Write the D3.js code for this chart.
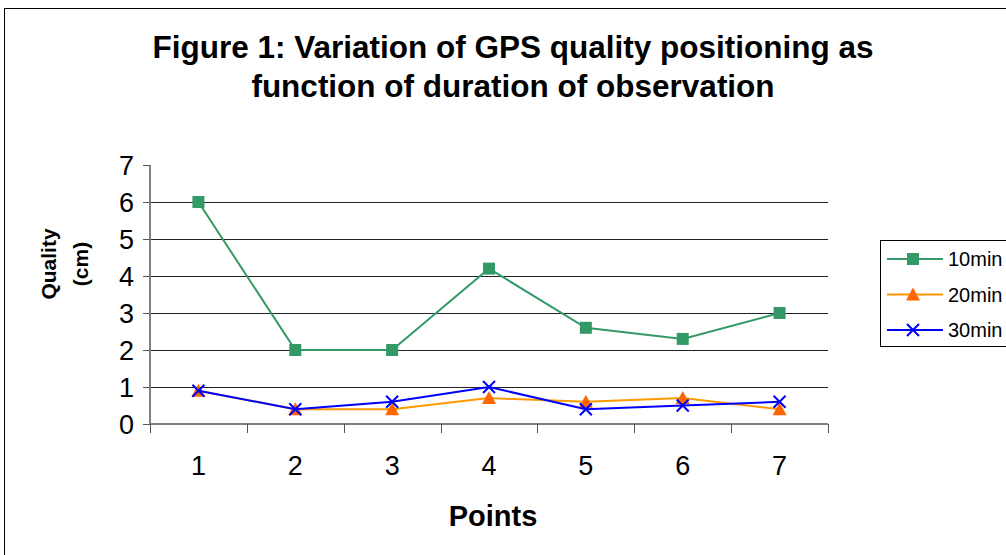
<!DOCTYPE html>
<html>
<head>
<meta charset="utf-8">
<script src="https://cdnjs.cloudflare.com/ajax/libs/d3/7.8.5/d3.min.js"></script>
<style>
body { margin: 0; background: #fff; }
svg { display: block; font-family: "Liberation Sans", Arial, sans-serif; }
</style>
</head>
<body>
<script>
// chart data
var points = ["1", "2", "3", "4", "5", "6", "7"];
var min10 = [6, 2, 2, 4.2, 2.6, 2.3, 3.0];
var min20 = [0.9, 0.4, 0.4, 0.7, 0.6, 0.7, 0.4];
var min30 = [0.9, 0.4, 0.6, 1.0, 0.4, 0.5, 0.6];
var seriesNames = ["10min", "20min", "30min"];
var yTicks = [0, 1, 2, 3, 4, 5, 6, 7];

var svgW = 1006, svgH = 555;
var plot = {left: 150, right: 828, top: 165, bottom: 424};

var svg = d3.select("body").append("svg")
    .attr("width", svgW)
    .attr("height", svgH);

// outer chart frame
svg.append("rect")
    .attr("x", 4.5).attr("y", 8.5)
    .attr("width", 1100).attr("height", 600)
    .attr("fill", "#fff")
    .attr("stroke", "#000")
    .attr("stroke-width", 1);

// title
var title = svg.append("text")
    .attr("text-anchor", "middle")
    .attr("font-weight", "bold")
    .attr("font-size", 31.5);
title.append("tspan").attr("x", 513).attr("y", 58)
    .text("Figure 1: Variation of GPS quality positioning as");
title.append("tspan").attr("x", 513).attr("y", 97)
    .text("function of duration of observation");

var xScale = d3.scaleBand()
    .domain(points)
    .range([plot.left, plot.right]);

var yScale = d3.scaleLinear()
    .domain([0, 7])
    .range([plot.bottom, plot.top]);

// gridlines
svg.append("g")
    .selectAll("line")
    .data(yTicks.filter(function(d) { return d > 0 && d < 7; }))
    .enter().append("line")
    .attr("x1", plot.left).attr("x2", plot.right)
    .attr("y1", function(d) { return Math.round(yScale(d)) + 0.5; })
    .attr("y2", function(d) { return Math.round(yScale(d)) + 0.5; })
    .attr("stroke", "#222")
    .attr("stroke-width", 1);

// y axis
var yAxis = d3.axisLeft(yScale)
    .tickValues(yTicks)
    .tickSize(7)
    .tickPadding(9)
    .tickFormat(d3.format("d"));

var gy = svg.append("g")
    .attr("transform", "translate(" + plot.left + ",0)")
    .call(yAxis);
gy.select(".domain").attr("stroke", "#808080").attr("stroke-width", 2)
    .attr("d", "M0," + plot.top + "V" + plot.bottom);
gy.selectAll(".tick line").attr("stroke", "#555");
gy.selectAll(".tick text")
    .attr("font-size", 27)
    .attr("font-family", "Liberation Sans, Arial, sans-serif")
    .attr("fill", "#000")
    .attr("dy", "0.35em");

// x axis
var xAxis = d3.axisBottom(xScale)
    .tickSize(0)
    .tickPadding(32);

var gx = svg.append("g")
    .attr("transform", "translate(0," + plot.bottom + ")")
    .call(xAxis);
gx.select(".domain").attr("stroke", "#808080").attr("stroke-width", 2)
    .attr("d", "M" + plot.left + ",0H" + plot.right);
gx.selectAll(".tick text")
    .attr("font-size", 27)
    .attr("font-family", "Liberation Sans, Arial, sans-serif")
    .attr("fill", "#000");

// x tick marks between categories
var bounds = points.map(function(p) { return xScale(p); }).concat([plot.right]);
gx.append("g").selectAll("line")
    .data(bounds)
    .enter().append("line")
    .attr("x1", function(d) { return Math.round(d) + 0.5; })
    .attr("x2", function(d) { return Math.round(d) + 0.5; })
    .attr("y1", 0).attr("y2", 9)
    .attr("stroke", "#555");

// axis titles
svg.append("text")
    .attr("x", 493).attr("y", 526)
    .attr("text-anchor", "middle")
    .attr("font-weight", "bold")
    .attr("font-size", 29)
    .text("Points");

var yt = svg.append("text")
    .attr("transform", "translate(56,264) rotate(-90)")
    .attr("text-anchor", "middle")
    .attr("font-weight", "bold")
    .attr("font-size", 21);
yt.append("tspan").attr("x", 0).attr("y", 0).text("Quality");
yt.append("tspan").attr("x", 0).attr("y", 32).text("(cm)");

// series
var series = [
    {name: seriesNames[0], values: min10, line: "#339966", mark: "#339966", shape: "square"},
    {name: seriesNames[1], values: min20, line: "#FF9900", mark: "#FF6600", shape: "triangle"},
    {name: seriesNames[2], values: min30, line: "#0000FF", mark: "#0000FF", shape: "x"}
];

var line = d3.line()
    .x(function(d, i) { return xScale(points[i]) + xScale.bandwidth() / 2; })
    .y(function(d) { return yScale(d); });

function drawMarker(g, shape, color, x, y) {
    if (shape === "square") {
        g.append("rect")
            .attr("x", x - 6).attr("y", y - 6)
            .attr("width", 12).attr("height", 12)
            .attr("fill", color);
    } else if (shape === "triangle") {
        g.append("path")
            .attr("d", "M" + x + "," + (y - 7) + "L" + (x + 7) + "," + (y + 6) + "L" + (x - 7) + "," + (y + 6) + "Z")
            .attr("fill", color);
    } else {
        g.append("path")
            .attr("d", "M" + (x - 6) + "," + (y - 6) + "L" + (x + 6) + "," + (y + 6) +
                "M" + (x + 6) + "," + (y - 6) + "L" + (x - 6) + "," + (y + 6))
            .attr("stroke", color)
            .attr("stroke-width", 2)
            .attr("fill", "none");
    }
}

series.forEach(function(s) {
    var g = svg.append("g");
    g.append("path")
        .datum(s.values)
        .attr("d", line)
        .attr("fill", "none")
        .attr("stroke", s.line)
        .attr("stroke-width", 2);
    s.values.forEach(function(v, i) {
        drawMarker(g, s.shape, s.mark, xScale(points[i]) + xScale.bandwidth() / 2, yScale(v));
    });
});

// legend
var legend = svg.append("g");
legend.append("rect")
    .attr("x", 880.5).attr("y", 240.5)
    .attr("width", 200).attr("height", 106)
    .attr("fill", "#fff")
    .attr("stroke", "#000");

series.forEach(function(s, i) {
    var ly = 259 + i * 35.5;
    legend.append("line")
        .attr("x1", 887).attr("x2", 943)
        .attr("y1", ly).attr("y2", ly)
        .attr("stroke", s.line).attr("stroke-width", 2);
    drawMarker(legend, s.shape, s.mark, 913, ly);
    legend.append("text")
        .attr("x", 948).attr("y", ly)
        .attr("dy", "0.35em")
        .attr("font-size", 20)
        .text(s.name);
});
</script>
</body>
</html>
